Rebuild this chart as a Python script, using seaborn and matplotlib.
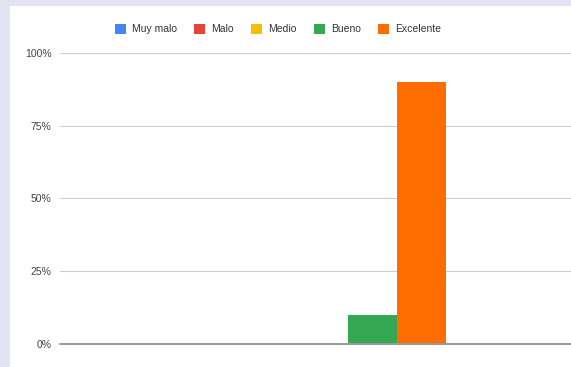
import matplotlib
matplotlib.use("Agg")
import matplotlib.pyplot as plt
import matplotlib.patches as mpatches
from matplotlib.ticker import PercentFormatter
import seaborn as sns
import pandas as pd

# Data
niveles = ["Muy malo", "Malo", "Medio", "Bueno", "Excelente"]
valores = [0.0, 0.0, 0.0, 0.10, 0.90]
grupo = [""] * len(niveles)
colores = ["#4285F4", "#EA4335", "#FBBC04", "#34A853", "#FF6D01"]
y_ticks = [0, 0.25, 0.5, 0.75, 1.0]

df = pd.DataFrame({"grupo": grupo, "nivel": niveles, "valor": valores})

sns.set_theme(style="white")
plt.rcParams["font.family"] = ["Liberation Sans", "DejaVu Sans"]

W, H = 571, 367
fig = plt.figure(figsize=(W / 100, H / 100), dpi=100)
fig.patch.set_facecolor("#e3e3f1")
# white card
card = mpatches.Rectangle((10 / W, 0), 1, (H - 6) / H, transform=fig.transFigure,
                          facecolor="white", edgecolor="none", zorder=-10)
fig.patches.append(card)

ax = fig.add_axes([60 / W, 23 / H, (571 - 60) / W, (344 - 53) / H])
ax.set_zorder(1)
ax.set_facecolor("none")

sns.barplot(data=df, x="grupo", y="valor", hue="nivel", hue_order=niveles,
            palette=colores, dodge=True, ax=ax, legend=False, linewidth=0,
            saturation=1)

ax.set_ylim(0, 1)
ax.set_xlim(-0.862, 0.807)
ax.set_yticks(y_ticks)
ax.yaxis.set_major_formatter(PercentFormatter(1.0, decimals=0))
ax.tick_params(axis="y", length=0, pad=6, labelsize=7.5, labelcolor="#444444")
ax.tick_params(axis="x", length=0, labelbottom=False)
ax.set_xlabel("")
ax.set_ylabel("")
for s in ax.spines.values():
    s.set_visible(False)
for t in y_ticks[1:]:
    ax.axhline(t, color="#cccccc", linewidth=0.8, zorder=0)
ax.axhline(0, color="#999999", linewidth=1.4, zorder=3, clip_on=False)

handles = [mpatches.Patch(facecolor=c, edgecolor="none", label=n) for c, n in zip(colores, niveles)]
fig.legend(handles=handles, loc="center", bbox_to_anchor=(278 / W, 338 / H), ncol=5,
           frameon=False, fontsize=7.5, handlelength=1.1, handleheight=1.1,
           handletextpad=0.6, columnspacing=1.6, labelcolor="#333333")

fig.savefig("out.png", dpi=100, facecolor=fig.get_facecolor())
